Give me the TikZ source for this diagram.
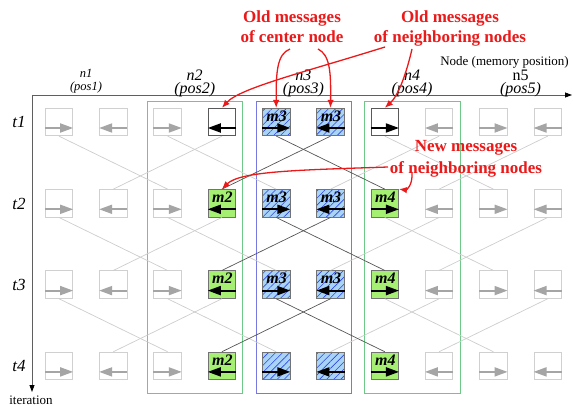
\documentclass[tikz,border=0pt]{standalone}
\usepackage{fontspec}
\setmainfont{Liberation Serif}
\usetikzlibrary{arrows.meta,patterns.meta,calc}

\definecolor{boxgray}{RGB}{208,208,208}
\definecolor{tipgray}{RGB}{165,165,165}
\definecolor{wirelight}{RGB}{205,205,205}
\definecolor{wiredark}{RGB}{85,85,85}
\definecolor{msggreen}{RGB}{165,240,115}
\definecolor{msgblue}{RGB}{170,212,245}
\definecolor{hatchblue}{RGB}{45,70,235}
\definecolor{framegreen}{RGB}{110,200,135}
\definecolor{frameblue}{RGB}{120,120,225}
\definecolor{notered}{RGB}{235,25,25}
\definecolor{axisgray}{RGB}{95,95,95}

\begin{document}
\begin{tikzpicture}[x=1pt,y=-1pt,
  msg/.style={minimum size=27.5pt,inner sep=0pt,line width=0.8pt},
  idlemsg/.style={msg,draw=boxgray,fill=white},
  oldmsg/.style={msg,draw=black!65,fill=white},
  newmsg/.style={msg,draw=black!55,fill=msggreen},
  hubmsg/.style={msg,draw=black!55,preaction={fill=msgblue},
    pattern={Lines[angle=45,distance=5pt,line width=0.6pt]},pattern color=hatchblue},
  idlemsg tip/.style={draw=tipgray,line width=1.8pt,-{Triangle[length=13pt,width=9pt]}},
  oldmsg tip/.style={draw=black,line width=1.8pt,-{Triangle[length=13pt,width=9pt]}},
  newmsg tip/.style={oldmsg tip},
  hubmsg tip/.style={oldmsg tip},
  msglabel/.style={font=\fontsize{16}{16}\selectfont\bfseries\itshape,inner sep=0pt,anchor=base},
  wire/.style={draw=wirelight,line width=0.7pt},
  hotwire/.style={draw=wiredark,line width=0.7pt},
  frame/.style={line width=1pt},
  axis/.style={draw=axisgray,line width=0.8pt,-{Triangle[length=7pt,width=5pt,color=black]}},
  poslabel/.style={font=\fontsize{16}{16}\selectfont\itshape,inner sep=0pt,anchor=base},
  smallpos/.style={font=\fontsize{12.5}{12.5}\selectfont\itshape,inner sep=0pt,anchor=base},
  steplabel/.style={font=\fontsize{17}{17}\selectfont\itshape,inner sep=0pt,anchor=base},
  axislabel/.style={font=\fontsize{13}{13}\selectfont,inner sep=0pt},
  note/.style={font=\fontsize{17}{17}\selectfont\bfseries,text=notered,inner sep=0pt,anchor=base},
  callout/.style={draw=notered,line width=1.3pt,-{Latex[length=8pt,width=6.5pt]}}
]
\useasboundingbox (0,0) rectangle (573,409);

% node frames (n2, n3, n4)
\draw[frame,draw=framegreen] (147.5,101.5) rectangle (242.5,393.5);
\draw[frame,draw=frameblue]  (256.5,101.5) rectangle (351.5,393.5);
\draw[frame,draw=framegreen] (364.5,101.5) rectangle (460.5,393.5);

% axes
\coordinate (origin) at (32,95);
\coordinate (xend) at (572,95);
\coordinate (yend) at (32,392);
\draw[axis] (origin) -- (xend);
\draw[axis] (origin) -- (yend);
\node[axislabel,anchor=base east] (xname) at (569,66) {Node (memory position)};
\node[axislabel,anchor=base] (yname) at (31,404) {iteration};

% node labels
\node[smallpos] (n1) at (86,77.5) {n1};
\node[smallpos] (p1) at (86,90.5) {(pos1)};
\node[poslabel] (n2) at (194.7,80.5) {n2};
\node[poslabel] (p2) at (194.7,94) {(pos2)};
\node[poslabel] (n3) at (303.4,80.5) {n3};
\node[poslabel] (p3) at (303.4,94) {(pos3)};
\node[poslabel] (n4) at (412,80.5) {n4};
\node[poslabel] (p4) at (412,94) {(pos4)};
\node[poslabel,font=\fontsize{16}{16}\selectfont] (n5) at (520.5,80.5) {n5};
\node[poslabel] (p5) at (520.5,94) {(pos5)};

% iteration labels
\foreach \r in {1,...,4}{
  \pgfmathsetmacro\yy{128+81.3*(\r-1)}
  \node[steplabel] (t\r) at (19,\yy) {t\r};
}

% message slots: two per node, four iterations
\foreach \c in {1,...,10}{
  \foreach \r in {1,...,4}{
    \pgfmathsetmacro\xx{59+54.3*(\c-1)}
    \pgfmathsetmacro\yy{122+81.3*(\r-1)}
    \def\kind{idlemsg}
    \ifnum\c=4 \ifnum\r=1 \def\kind{oldmsg}\else\def\kind{newmsg}\fi\fi
    \ifnum\c=7 \ifnum\r=1 \def\kind{oldmsg}\else\def\kind{newmsg}\fi\fi
    \ifnum\c=5 \def\kind{hubmsg}\fi
    \ifnum\c=6 \def\kind{hubmsg}\fi
    \node[\kind] (b\c-\r) at (\xx,\yy) {};
    \ifodd\c
      \draw[\kind\space tip] ($(b\c-\r.west)+(0,6)$) -- ($(b\c-\r.east)+(0,6)$);
    \else
      \draw[\kind\space tip] ($(b\c-\r.east)+(0,6)$) -- ($(b\c-\r.west)+(0,6)$);
    \fi
  }
}

% slot contents
\foreach \c/\r/\m in {4/2/m2,4/3/m2,4/4/m2,5/1/m3,5/2/m3,5/3/m3,
                      6/1/m3,6/2/m3,6/3/m3,7/2/m4,7/3/m4,7/4/m4}{
  \node[msglabel] at ($(b\c-\r.north)+(0.5,13.5)$) {\m};
}

% message flow between iterations
\foreach \r in {1,2,3}{
  \pgfmathtruncatemacro\rn{\r+1}
  \foreach \c in {1,3,7}{
    \pgfmathtruncatemacro\cn{\c+2}
    \draw[wire] (b\c-\r.south) -- (b\cn-\rn.north);
  }
  \foreach \c in {4,8,10}{
    \pgfmathtruncatemacro\cn{\c-2}
    \draw[wire] (b\c-\r.south) -- (b\cn-\rn.north);
  }
  \draw[hotwire] (b5-\r.south) -- (b7-\rn.north);
  \draw[hotwire] (b6-\r.south) -- (b4-\rn.north);
}

% annotations
\node[note] (oc1) at (292,23) {Old messages};
\node[note] (oc2) at (292,43) {of center node};
\node[note] (on1) at (450,23) {Old messages};
\node[note] (on2) at (450,43) {of neighboring nodes};
\node[note] (nn1) at (466,152) {New messages};
\node[note] (nn2) at (466,173) {of neighboring nodes};

\coordinate (s1) at (290,49);
\coordinate (s2) at (318,49);
\coordinate (s3) at (385,47);
\coordinate (s4) at (412,49);
\coordinate (s5) at (388,167);
\coordinate (s6) at (412,172);

\draw[callout] (s1) .. controls (277,54) and (276,72) .. (b5-1.north);
\draw[callout] (s2) .. controls (330,55) and (331,72) .. (b6-1.north);
\draw[callout] (s3) .. controls (305,72) and (240,88) .. (b4-1.north);
\draw[callout] (s4) .. controls (406,75) and (398,96) .. (b7-1.north);
\draw[callout] (s5) .. controls (300,170) and (240,171) .. (b4-2.north);
\draw[callout] (s6) .. controls (413,186) and (406,190) .. (b7-2.north east);
\end{tikzpicture}
\end{document}
